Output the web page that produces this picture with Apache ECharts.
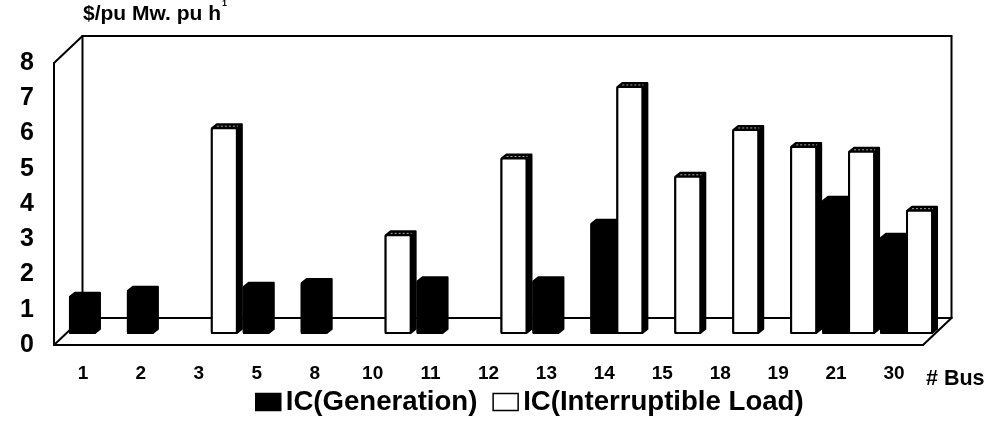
<!DOCTYPE html>
<html>
<head>
<meta charset="utf-8">
<title>IC by bus</title>
<script src="https://cdn.jsdelivr.net/npm/echarts@6/dist/echarts.min.js"></script>
<style>
	html, body { margin: 0; padding: 0; background: #fff; }
	#chart { width: 992px; height: 428px; }
</style>
</head>
<body>
<div id="chart"></div>
<script type="text/javascript">
	var buses = ['1', '2', '3', '5', '8', '10', '11', '12', '13', '14', '15', '18', '19', '21', '30'];
	var generation = [1.03, 1.2, null, 1.31, 1.42, null, 1.47, null, 1.47, 3.1, null, null, null, 3.75, 2.7];
	var interruptible = [null, null, 5.81, null, null, 2.77, null, 4.95, null, 6.98, 4.43, 5.76, 5.28, 5.14, 3.47];
	var yTicks = [0, 8, 1];

	var fontName = '"Liberation Sans", Arial, sans-serif';

	// fake 3d box, the bars stand half way back on the floor
	var wallDx = 28.5, wallDy = -27;
	var barDx = 13, barDy = -12;
	var barWidth = 25, sideW = 5, capH = 4;

	function renderFrame(params, api) {
		var slot = api.size([1, 0])[0];
		var p0 = api.coord([0, yTicks[0]]);
		var p8 = api.coord([0, yTicks[1]]);
		var left = p0[0] - slot / 2;
		var right = left + slot * buses.length;
		var bottom = p0[1], top = p8[1];
		var segs = [
			[left, bottom, right, bottom],
			[left, bottom, left, top],
			[left, top, left + wallDx, top + wallDy],
			[left, bottom, left + wallDx, bottom + wallDy],
			[right, bottom, right + wallDx, bottom + wallDy],
			[left + wallDx, bottom + wallDy, right + wallDx, bottom + wallDy],
			[left + wallDx, bottom + wallDy, left + wallDx, top + wallDy],
			[right + wallDx, bottom + wallDy, right + wallDx, top + wallDy],
			[left + wallDx, top + wallDy, right + wallDx, top + wallDy]
		];
		return {
			type: 'group',
			children: segs.map(function (s) {
				return {
					type: 'line',
					shape: { x1: s[0], y1: s[1], x2: s[2], y2: s[3] },
					style: { stroke: '#000', lineWidth: 2, lineCap: 'round' }
				};
			})
		};
	}

	function barRenderer(side, fill) {
		return function (params, api) {
			var val = api.value(1);
			if (isNaN(val)) {
				return;
			}
			var base = api.coord([api.value(0), 0]);
			var tip = api.coord([api.value(0), val]);
			var x0 = base[0] + barDx + (side < 0 ? -barWidth - 1 : 0);
			var x1 = x0 + barWidth;
			var yb = base[1] + barDy, yt = tip[1] + barDy;
			var children = [{
				type: 'polygon',
				shape: { points: [
					[x0, yt], [x0 + sideW, yt - capH], [x1 + sideW, yt - capH],
					[x1 + sideW, yb - capH], [x1, yb], [x0, yb]
				] },
				style: { fill: '#000', stroke: '#000', lineWidth: 2, lineJoin: 'round' }
			}, {
				type: 'rect',
				shape: { x: x0, y: yt, width: barWidth, height: yb - yt, r: 1.5 },
				style: { fill: fill, stroke: '#000', lineWidth: 2 }
			}];
			if (side > 0) {
				// speckle on top of the white bars
				children.push({
					type: 'line',
					shape: { x1: x0 + 5, y1: yt - 2, x2: x1 + 1, y2: yt - 2 },
					style: { stroke: '#aaa', lineWidth: 1, lineDash: [2, 2] }
				});
			}
			return { type: 'group', children: children };
		};
	}

	var chart = echarts.init(document.getElementById('chart'), null, { renderer: 'canvas' });
	chart.setOption({
		animation: false,
		backgroundColor: '#fff',
		textStyle: { fontFamily: fontName, color: '#000' },
		title: {
			left: 78,
			top: -6,
			text: '{a|$/pu Mw. pu h}{b|1}',
			textStyle: {
				rich: {
					a: { fontFamily: fontName, fontWeight: 'bold', fontSize: 21, color: '#000', lineHeight: 30 },
					b: { fontFamily: fontName, fontSize: 9, color: '#000', verticalAlign: 'top', padding: [0, 0, 16, 1] }
				}
			}
		},
		legend: {
			left: 250,
			top: 383,
			itemWidth: 25,
			itemHeight: 17,
			itemGap: 15,
			icon: 'rect',
			selectedMode: false,
			data: [
				{ name: 'IC(Generation)', itemStyle: { color: '#000', borderColor: '#000', borderWidth: 1.5 } },
				{ name: 'IC(Interruptible Load)', itemStyle: { color: '#fff', borderColor: '#000', borderWidth: 1.5 } }
			],
			textStyle: { fontFamily: fontName, fontWeight: 'bold', fontSize: 27.6, color: '#000' }
		},
		grid: { left: 54, right: 69, top: 63, bottom: 83 },
		xAxis: {
			type: 'category',
			data: buses,
			axisLine: { show: false },
			axisTick: { show: false },
			axisLabel: { fontFamily: fontName, fontWeight: 'bold', fontSize: 19, color: '#000', margin: 19 }
		},
		yAxis: {
			type: 'value',
			min: yTicks[0],
			max: yTicks[1],
			interval: yTicks[2],
			axisLine: { show: false },
			axisTick: { show: false },
			splitLine: { show: false },
			axisLabel: { fontFamily: fontName, fontWeight: 'bold', fontSize: 25, color: '#000', margin: 20 }
		},
		graphic: [{
			type: 'text',
			left: 926,
			top: 368,
			style: { text: '# Bus', fontFamily: fontName, fontWeight: 'bold', fontSize: 21.5, fill: '#000' }
		}],
		series: [
			{
				name: 'frame',
				type: 'custom',
				z: 1,
				silent: true,
				renderItem: renderFrame,
				data: [[0, 0]]
			},
			{
				name: 'IC(Generation)',
				type: 'custom',
				z: 2,
				renderItem: barRenderer(-1, '#000'),
				itemStyle: { color: '#000' },
				encode: { x: 0, y: 1 },
				data: generation.map(function (v, i) { return [i, v === null ? NaN : v]; })
			},
			{
				name: 'IC(Interruptible Load)',
				type: 'custom',
				z: 3,
				renderItem: barRenderer(1, '#fff'),
				itemStyle: { color: '#fff' },
				encode: { x: 0, y: 1 },
				data: interruptible.map(function (v, i) { return [i, v === null ? NaN : v]; })
			}
		]
	});
</script>
</body>
</html>
